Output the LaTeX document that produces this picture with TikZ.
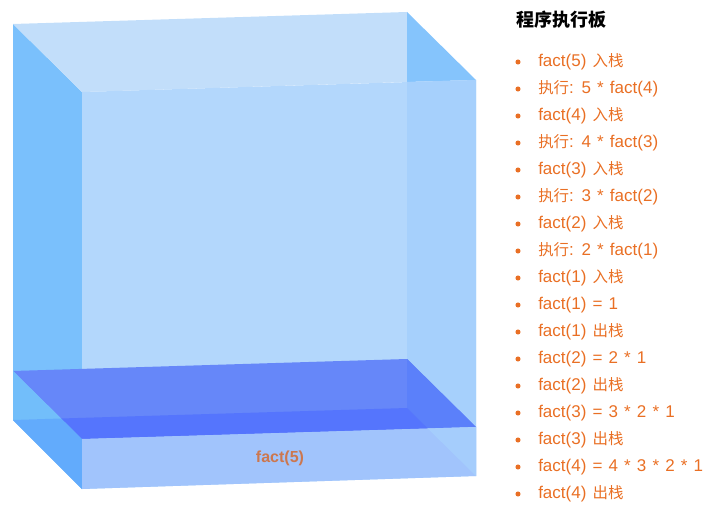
\documentclass[tikz,border=0pt]{standalone}
\usepackage{fontspec}
\setmainfont{Liberation Sans}[WordSpace=1.3]
\newfontfamily\cjk{Noto Sans CJK SC}
\usepackage{xcolor}
\usetikzlibrary{positioning}

\definecolor{leftwall}{HTML}{7AC0FC}
\definecolor{backwall}{HTML}{C2DEFA}
\definecolor{rightwall}{HTML}{85C4FC}
\definecolor{frontwall}{HTML}{B3D7FC}
\definecolor{rightseen}{HTML}{A6D0FC}
\definecolor{slabtop}{HTML}{6687F9}
\definecolor{slabtopright}{HTML}{5B80FA}
\definecolor{slabband}{HTML}{5575FD}
\definecolor{slabfront}{HTML}{A1C4FC}
\definecolor{slabfrontright}{HTML}{A5CDFC}
\definecolor{slableftup}{HTML}{72BEFA}
\definecolor{slableftlow}{HTML}{62ABFC}
\definecolor{steporange}{HTML}{E96F24}
\definecolor{labelorange}{HTML}{CC774F}

\newcommand{\zh}[1]{{\cjk\fontsize{11.6}{13}\selectfont #1}}

\begin{document}
\begin{tikzpicture}[x=0.75pt,y=-0.75pt,
    stepitem/.style={anchor=west,text=steporange,inner sep=0pt,
      font=\fontsize{12.75}{14}\selectfont}]
  \useasboundingbox (0,0) rectangle (725,524);
  % the open box
  \fill[leftwall] (13,24) -- (82,92) -- (82,489) -- (13,420) -- cycle;
  \fill[backwall] (13,24) -- (407,12) -- (407,82) -- (82,92) -- cycle;
  \fill[rightwall] (407,12) -- (476,80) -- (407,82) -- cycle;
  \fill[frontwall] (82,92) -- (476,80) -- (476,476) -- (82,489) -- cycle;
  \fill[rightseen] (407,82) -- (476,80) -- (476,476) -- (407,408) -- cycle;
  % slab at the bottom : fact(5)
  \fill[slabtop] (13,371) -- (407,359) -- (476,427) -- (82,439) -- cycle;
  \fill[slabtopright] (407,359) -- (476,427) -- (427.8,428.5) -- (407,408) -- cycle;
  \fill[slabband] (61.2,418.5) -- (407,408) -- (427.8,428.5) -- (82,439) -- cycle;
  \fill[slableftup] (13,371) -- (61.2,418.5) -- (13,420) -- cycle;
  \fill[slableftlow] (13,420) -- (61.2,418.5) -- (82,439) -- (82,489) -- cycle;
  \fill[slabfront] (82,439) -- (476,427) -- (476,476) -- (82,489) -- cycle;
  \fill[slabfrontright] (427.8,428.5) -- (476,427) -- (476,476) -- cycle;
  \node[text=labelorange,font=\bfseries\fontsize{12}{14}\selectfont] (slablabel) at (280,458) {fact(5)};
  % execution board
  \node[anchor=west,inner sep=0pt,font=\cjk\bfseries\fontsize{13.5}{16}\selectfont] (board) at (516,20) {程序执行板};
  \foreach \txt [count=\i] in {fact(5) \zh{入栈}, \zh{执行}: 5 * fact(4), fact(4) \zh{入栈}, \zh{执行}: 4 * fact(3),
      fact(3) \zh{入栈}, \zh{执行}: 3 * fact(2), fact(2) \zh{入栈}, \zh{执行}: 2 * fact(1), fact(1) \zh{入栈},
      fact(1) = 1, fact(1) \zh{出栈}, fact(2) = 2 * 1, fact(2) \zh{出栈}, fact(3) = 3 * 2 * 1,
      fact(3) \zh{出栈}, fact(4) = 4 * 3 * 2 * 1, fact(4) \zh{出栈}} {
    \node[stepitem] (s\i) at (538,{62+27*(\i-1)}) {\txt};
    \fill[steporange] ([xshift=-15pt]s\i.west) circle (1.9pt);
  }
\end{tikzpicture}
\end{document}
